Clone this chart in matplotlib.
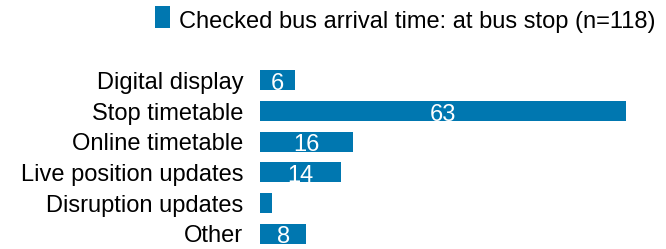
import matplotlib
matplotlib.use("Agg")
import matplotlib.pyplot as plt
from matplotlib.patches import Rectangle

categories = ["Digital display", "Stop timetable", "Online timetable",
              "Live position updates", "Disruption updates", "Other"]
values = [6, 63, 16, 14, 2, 8]
value_labels = ["6", "63", "16", "14", "", "8"]
series_name = "Checked bus arrival time: at bus stop (n=118)"

color = "#0077B0"
fs = 17
plt.rcParams["font.family"] = ["Liberation Sans", "DejaVu Sans"]

fig = plt.figure(figsize=(6.66, 2.49), dpi=100)
W, H = 666, 249
left, right, top, bottom = 260, 626, 65, 249
ax = fig.add_axes([left / W, 1 - bottom / H, (right - left) / W, (bottom - top) / H])

ys = list(range(len(categories)))
ax.barh(ys, values, height=0.65, color=color)
ax.set_xlim(0, 63)
ax.set_ylim(len(categories) - 0.5, -0.5)
ax.set_yticks(ys)
ax.set_yticklabels(categories, fontsize=fs)
ax.tick_params(axis="y", length=0, pad=12)
ax.set_xticks([])
for s in ax.spines.values():
    s.set_visible(False)

for y, v, lab in zip(ys, values, value_labels):
    if lab:
        ax.text(v / 2, y + 0.31, lab, ha="center", va="baseline",
                color="white", fontsize=fs, clip_on=False)

# legend drawn manually in figure coordinates
fig.patches.append(Rectangle((155 / W, 1 - 28 / H), 15 / W, 22 / H,
                             transform=fig.transFigure, facecolor=color,
                             edgecolor="none"))
fig.text(179 / W, 1 - 28 / H, series_name, fontsize=fs, ha="left",
         va="baseline")

fig.savefig("out.png", dpi=100)
